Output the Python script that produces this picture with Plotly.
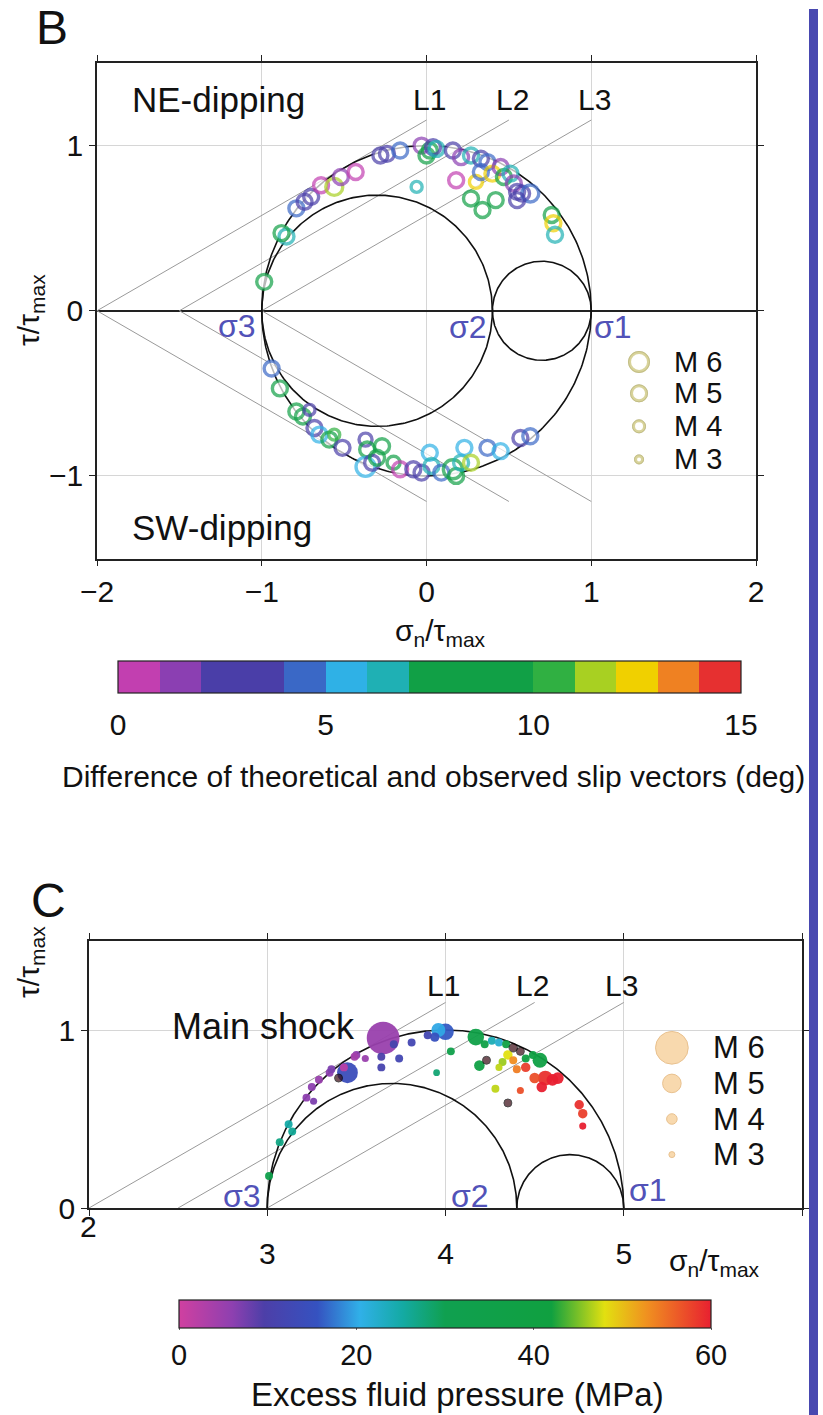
import numpy as np
import plotly.graph_objects as go

W, H = 823, 1415
def px(x):
    return x / W
def py(y):
    return 1 - y / H

FONT = "Liberation Sans, Arial, sans-serif"
SIG_COLOR = "#5252b8"

# ---------------- stress states (normalised by tau_max) ----------------
sig_B = {"s1": 1.0, "s2": 0.4, "s3": -1.0}
sig_C = {"s1": 5.0, "s2": 4.4, "s3": 3.0}
friction_angle_deg = 30.0
line_origins_B = [-2.0, -1.5, -1.0]
line_origins_C = [2.0, 2.5, 3.0]
line_span = 2.0
line_labels = ["L1", "L2", "L3"]

# ---------------- panel B events ----------------
sB = [-0.985, -0.85, -0.88, -0.79, -0.74, -0.70, -0.64, -0.56, -0.52, -0.43,
      -0.28, -0.24, -0.16, -0.03, 0.00, 0.02, 0.04, 0.06, -0.06, 0.16,
      0.21, 0.27, 0.33, 0.37, 0.18, 0.30, 0.33, 0.40, 0.45, 0.47,
      0.51, 0.53, 0.55, 0.58, 0.63, 0.55, 0.27, 0.34, 0.42, 0.76,
      0.77, 0.78,
      -0.94, -0.89, -0.79, -0.75, -0.71, -0.68, -0.65, -0.59, -0.56, -0.51,
      -0.37, -0.36, -0.37, -0.33, -0.27, -0.30, -0.20, -0.16, -0.08, -0.03,
      0.02, 0.03, 0.09, 0.16, 0.18, 0.21, 0.23, 0.27, 0.37, 0.45,
      0.57, 0.63]
tB = [0.175, 0.45, 0.47, 0.62, 0.66, 0.69, 0.76, 0.75, 0.81, 0.84,
      0.94, 0.95, 0.97, 1.00, 0.94, 0.97, 0.99, 0.98, 0.75, 0.97,
      0.93, 0.94, 0.92, 0.90, 0.79, 0.78, 0.84, 0.83, 0.87, 0.81,
      0.83, 0.77, 0.72, 0.71, 0.71, 0.67, 0.68, 0.61, 0.67, 0.58,
      0.53, 0.46,
      -0.35, -0.47, -0.61, -0.64, -0.60, -0.71, -0.75, -0.78, -0.75, -0.83,
      -0.78, -0.84, -0.945, -0.92, -0.82, -0.89, -0.92, -0.96, -0.96, -0.98,
      -0.86, -0.94, -0.98, -0.96, -1.00, -0.92, -0.83, -0.92, -0.83, -0.85,
      -0.77, -0.76]
dB = [9, 6, 9, 4.5, 3, 2.5, 0.5, 11.5, 1, 0.8,
      2, 3, 4, 1.5, 8, 9, 2, 6, 6, 2,
      1.5, 6.5, 3, 4, 0.5, 12.5, 4, 12, 1, 9,
      6, 1, 3, 2, 4, 2, 8, 8, 9, 9,
      12, 6,
      4, 8, 9, 8, 3, 3, 5.5, 9, 10, 3,
      3, 9, 5.5, 3, 8, 9, 9, 0.5, 2, 3,
      5.5, 6, 4, 8, 9, 6.5, 5.5, 11, 4, 5.5,
      3, 4]
mB = [4.5, 4.5, 4.5, 4.5, 4.5, 4.5, 4.5, 5.0, 4.5, 4.5,
      4.5, 4.5, 4.5, 4.5, 4.5, 4.5, 4.5, 4.5, 3.5, 4.5,
      4.5, 4.5, 4.5, 4.5, 4.5, 4.0, 4.5, 4.5, 4.5, 4.5,
      4.5, 4.5, 4.5, 4.5, 5.0, 4.5, 4.5, 4.5, 4.5, 4.5,
      4.5, 4.5,
      4.5, 4.5, 4.5, 4.5, 3.5, 4.5, 4.5, 4.5, 3.5, 4.5,
      4.0, 4.5, 5.5, 4.5, 4.5, 4.5, 4.0, 4.5, 4.5, 4.5,
      4.5, 4.5, 4.5, 5.5, 4.5, 4.5, 4.5, 4.5, 4.5, 4.5,
      4.5, 4.5]

# ---------------- panel C events ----------------
sC = [3.65, 3.64, 3.71, 3.74, 3.64, 3.81, 3.50, 3.55, 3.45, 3.25,
      3.29, 3.35, 3.36, 3.43, 3.49, 3.22, 3.26, 3.12, 3.14, 3.07,
      3.01, 4.00, 3.96, 3.94, 3.90, 4.03, 3.95, 4.17, 4.22, 4.19,
      4.26, 4.30, 4.34, 4.35, 4.32, 4.30, 4.38, 4.40, 4.45, 4.45,
      4.53, 4.49, 4.56, 4.60, 4.63, 4.54, 4.50, 4.75, 4.77, 4.77,
      4.42, 4.28]
tC = [0.955, 0.85, 0.92, 0.84, 0.79, 0.93, 0.86, 0.84, 0.76, 0.68,
      0.72, 0.76, 0.78, 0.79, 0.85, 0.62, 0.60, 0.47, 0.43, 0.37,
      0.18, 0.99, 1.00, 0.96, 0.97, 0.88, 0.76, 0.96, 0.92, 0.80,
      0.94, 0.93, 0.92, 0.86, 0.82, 0.79, 0.83, 0.78, 0.84, 0.79,
      0.83, 0.86, 0.73, 0.72, 0.73, 0.68, 0.73, 0.58, 0.53, 0.46,
      0.66, 0.67]
pC = [5, 10, 11, 12, 11, 12, 6, 5, 14, 6,
      5, 6, 7, 2, 4, 6, 7, 25, 26, 27,
      33, 16, 20, 15, 12, 34, 28, 36, 37, 38,
      24, 22, 40, 48, 46, 47, 53, 54, 41, 58,
      38, 40, 59, 60, 60, 60, 57, 59, 58, 60,
      57, 47]
mC = [6.0, 3.5, 3.5, 3.5, 3.5, 3.5, 3.5, 3.3, 5.2, 3.5,
      3.5, 3.5, 3.5, 3.5, 3.5, 3.5, 3.3, 3.5, 3.5, 3.5,
      3.5, 4.8, 4.5, 3.8, 3.5, 3.5, 3.2, 4.8, 3.5, 4.0,
      3.5, 3.5, 3.5, 3.8, 3.5, 3.3, 3.5, 3.5, 3.5, 3.8,
      4.6, 3.5, 4.6, 4.2, 4.2, 4.0, 4.0, 3.8, 3.8, 3.3,
      3.3, 3.5]
# events plotted in dark (off-scale)
sCk = [3.40, 4.23, 4.38, 4.42, 4.35]
tCk = [0.73, 0.83, 0.90, 0.88, 0.59]
mCk = [3.5, 3.5, 3.6, 3.5, 3.5]

legend_mags = [6, 5, 4, 3]
legend_text = ["M 6", "M 5", "M 4", "M 3"]

# ---------------- colour scales ----------------
b_steps = [(0, 1, "#c23fb0"), (1, 2, "#8b3fb2"), (2, 4, "#4a3ea8"), (4, 5, "#3a68c6"),
           (5, 6, "#2fb1e6"), (6, 7, "#1fb0b4"), (7, 10, "#11a046"), (10, 11, "#30b042"),
           (11, 12, "#a8d022"), (12, 13, "#f0d000"), (13, 14, "#ef8122"), (14, 15, "#e63030")]
cs_B = []
for lo, hi, c in b_steps:
    cs_B.append([lo / 15, c])
    cs_B.append([hi / 15, c])

cs_C = [[0.0, "#d040a0"], [0.1, "#8e40b0"], [0.16, "#4d3fa8"], [0.26, "#3552c0"],
        [0.34, "#30b0e8"], [0.42, "#14aaa4"], [0.5, "#10a050"], [0.7, "#10a040"],
        [0.8, "#e2e010"], [0.88, "#f09020"], [1.0, "#e82030"]]

def size_B(m):
    return [9 + 4 * (v - 3) for v in m]

def size_C(m):
    return [6 * 1.76 ** (v - 3) for v in m]

def circle(c, r, upper_only=False):
    a = np.linspace(0, np.pi if upper_only else 2 * np.pi, 361)
    return c + r * np.cos(a), r * np.sin(a)

def mohr_circles(s, upper_only):
    pairs = [(s["s3"], s["s1"]), (s["s3"], s["s2"]), (s["s2"], s["s1"])]
    return [circle((lo + hi) / 2, (hi - lo) / 2, upper_only) for lo, hi in pairs]

fig = go.Figure()
slope = np.tan(np.radians(friction_angle_deg))
TRANSP = "rgba(0,0,0,0)"

# ---- Panel B ----
for o in line_origins_B:
    for sgn in (1, -1):
        fig.add_trace(go.Scatter(x=[o, o + line_span], y=[0, sgn * slope * line_span],
                                 mode="lines", line=dict(color="#9a9a9a", width=1),
                                 xaxis="x", yaxis="y", hoverinfo="skip", showlegend=False))
for cx, cy in mohr_circles(sig_B, False):
    fig.add_trace(go.Scatter(x=cx, y=cy, mode="lines", line=dict(color="#111", width=1.6),
                             xaxis="x", yaxis="y", hoverinfo="skip", showlegend=False))
fig.add_trace(go.Scatter(x=sB, y=tB, mode="markers",
                         marker=dict(size=size_B(mB), color="white", line=dict(width=0)),
                         xaxis="x", yaxis="y", hoverinfo="skip", showlegend=False))
fig.add_trace(go.Scatter(
    x=sB, y=tB, mode="markers", xaxis="x", yaxis="y", showlegend=False,
    marker=dict(symbol="circle-open", size=size_B(mB), color=dB, colorscale=cs_B,
                cmin=0, cmax=15, line=dict(width=3.4),
                colorbar=dict(orientation="h", x=px(429.5), xanchor="center",
                              y=py(661), yanchor="top", len=(741 - 118) / W, lenmode="fraction",
                              thickness=32, thicknessmode="pixels", outlinewidth=1.2,
                              outlinecolor="#222", xpad=0, ypad=0,
                              tickvals=[0, 5, 10, 15], ticks="outside", ticklen=6,
                              tickcolor=TRANSP,
                              tickfont=dict(family=FONT, size=30, color="#111")))))
# legend B
legB_x = [1.29] * 4
legB_y = [-0.31, -0.50, -0.70, -0.90]
fig.add_trace(go.Scatter(x=legB_x, y=legB_y, mode="markers", xaxis="x", yaxis="y",
                         marker=dict(symbol="circle", size=size_B(legend_mags), color="white",
                                     line=dict(color="#9a9a8a", width=1)),
                         hoverinfo="skip", showlegend=False))
fig.add_trace(go.Scatter(x=legB_x, y=legB_y, mode="markers", xaxis="x", yaxis="y",
                         marker=dict(symbol="circle-open", size=[s - 2 for s in size_B(legend_mags)],
                                     color="#c8c070", line=dict(width=3)),
                         hoverinfo="skip", showlegend=False))

# ---- Panel C ----
for o in line_origins_C:
    fig.add_trace(go.Scatter(x=[o, o + line_span], y=[0, slope * line_span],
                             mode="lines", line=dict(color="#9a9a9a", width=1),
                             xaxis="x2", yaxis="y2", hoverinfo="skip", showlegend=False))
for cx, cy in mohr_circles(sig_C, True):
    fig.add_trace(go.Scatter(x=cx, y=cy, mode="lines", line=dict(color="#111", width=1.6),
                             xaxis="x2", yaxis="y2", hoverinfo="skip", showlegend=False))
fig.add_trace(go.Scatter(
    x=sC, y=tC, mode="markers", xaxis="x2", yaxis="y2", showlegend=False,
    marker=dict(size=size_C(mC), color=pC, colorscale=cs_C, cmin=0, cmax=60, opacity=0.95,
                line=dict(width=0),
                colorbar=dict(orientation="h", x=px(445), xanchor="center",
                              y=py(1300), yanchor="top", len=(711 - 179) / W, lenmode="fraction",
                              thickness=28, thicknessmode="pixels", outlinewidth=1.2,
                              outlinecolor="#222", xpad=0, ypad=0,
                              tickvals=[0, 20, 40, 60], ticks="outside", ticklen=2,
                              tickcolor="#666",
                              tickfont=dict(family=FONT, size=29, color="#111")))))
fig.add_trace(go.Scatter(x=sCk, y=tCk, mode="markers", xaxis="x2", yaxis="y2",
                         marker=dict(size=size_C(mCk), color="#3a0a14",
                                     line=dict(color="#000", width=1)),
                         hoverinfo="skip", showlegend=False))
legC_x = [5.27] * 4
legC_y = [0.90, 0.70, 0.50, 0.30]
fig.add_trace(go.Scatter(x=legC_x, y=legC_y, mode="markers", xaxis="x2", yaxis="y2",
                         marker=dict(size=size_C(legend_mags), color="#f6c98c",
                                     line=dict(color="#e0a860", width=1)),
                         hoverinfo="skip", showlegend=False))

# ---------------- annotations ----------------
ann = []
def txt(x, y, s, size, xref="paper", yref="paper", color="#111", xanchor="center",
        yanchor="middle", angle=0):
    ann.append(dict(x=x, y=y, text=s, xref=xref, yref=yref, showarrow=False,
                    xanchor=xanchor, yanchor=yanchor, textangle=angle,
                    font=dict(family=FONT, size=size, color=color)))

txt(px(52), py(27), "B", 48)
txt(px(48), py(900), "C", 48)
txt(-1.80, 1.28, "NE-dipping", 35, "x", "y", xanchor="left")
txt(-1.80, -1.31, "SW-dipping", 35, "x", "y", xanchor="left")
for lab, o in zip(line_labels, line_origins_B):
    txt(o + line_span + 0.02, 1.28, lab, 30, "x", "y")
for lab, o in zip(line_labels, line_origins_C):
    txt(o + line_span - 0.01, 1.25, lab, 30, "x2", "y2")
txt(-1.15, -0.09, "σ3", 32, "x", "y", SIG_COLOR)
txt(0.25, -0.10, "σ2", 32, "x", "y", SIG_COLOR)
txt(1.13, -0.10, "σ1", 32, "x", "y", SIG_COLOR)
txt(2.86, 0.07, "σ3", 32, "x2", "y2", SIG_COLOR)
txt(4.14, 0.07, "σ2", 32, "x2", "y2", SIG_COLOR)
txt(5.02, 0.10, "σ1", 32, "x2", "y2", SIG_COLOR, xanchor="left")
for t, yy in zip(legend_text, legB_y):
    txt(1.49, yy, t, 29, "x", "y", xanchor="left")
for t, yy in zip(legend_text, legC_y):
    txt(5.49, yy, t, 31, "x2", "y2", xanchor="left")
txt(2.98, 1.02, "Main shock", 36, "x2", "y2")
txt(px(440), py(632), "σ<sub>n</sub>/τ<sub>max</sub>", 30)
txt(px(714), py(1262), "σ<sub>n</sub>/τ<sub>max</sub>", 30)
txt(px(30), py(310), "τ/τ<sub>max</sub>", 30, angle=-90)
txt(px(30), py(962), "τ/τ<sub>max</sub>", 30, angle=-90)
txt(px(88), py(1226), "2", 30)
txt(px(433), py(776), "Difference of theoretical and observed slip vectors (deg)", 30)
txt(px(457), py(1415), "Excess fluid pressure (MPa)", 33, yanchor="bottom")

axis_common = dict(showline=True, linecolor="#222", linewidth=1.6, mirror="ticks",
                   ticks="outside", ticklen=6, tickcolor="#222", showgrid=True,
                   gridcolor="#d6d6d6", gridwidth=1, automargin=False,
                   tickfont=dict(family=FONT, size=30, color="#111"))

fig.update_layout(
    width=W, height=H, margin=dict(l=0, r=0, t=0, b=0, autoexpand=False),
    paper_bgcolor="white", plot_bgcolor="white", showlegend=False,
    xaxis=dict(domain=[px(97), px(756)], range=[-2, 2], tickvals=[-2, -1, 0, 1, 2],
               zeroline=False, anchor="y", **axis_common),
    yaxis=dict(domain=[py(558.5), py(63)], range=[-1.5, 1.5], tickvals=[-1, 0, 1],
               zeroline=True, zerolinecolor="#222", zerolinewidth=1.6, anchor="x",
               **axis_common),
    xaxis2=dict(domain=[px(89), px(802)], range=[2, 6], tickvals=[2, 3, 4, 5, 6],
                ticktext=["", "3", "4", "5", ""], zeroline=False, anchor="y2",
                ticklabelstandoff=12, **axis_common),
    yaxis2=dict(domain=[py(1208), py(941)], range=[0, 1.5], tickvals=[0, 1],
                zeroline=False, anchor="x2", **axis_common),
    annotations=ann,
    shapes=[dict(type="rect", xref="paper", yref="paper", x0=px(809), x1=px(818),
                 y0=0, y1=py(9), fillcolor="#4848b0", line=dict(width=0), layer="above")],
)

fig.write_html("out.html")
